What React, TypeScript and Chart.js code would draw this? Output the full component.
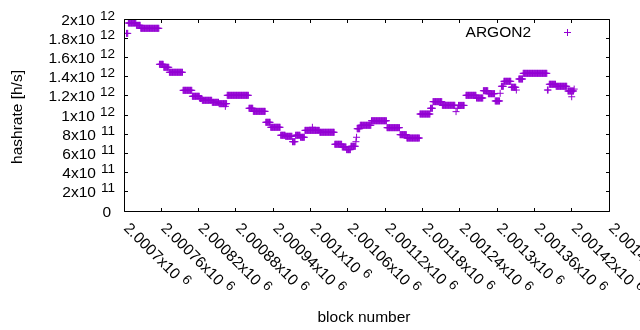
import React, { useEffect, useRef } from 'react';
import { Chart, registerables } from 'chart.js';

Chart.register(...registerables);

// Plateaus: every block from start to end shares the hashrate value.
const plateauStart = [
  2000704, 2000707, 2000720, 2000727, 2000757, 2000764, 2000773, 2000795, 2000810, 2000822,
  2000826, 2000842, 2000853, 2000863, 2000866, 2000901, 2000908, 2000928, 2000936, 2000952,
  2000960, 2000971, 2000976, 2000984, 2000991, 2001003, 2001015, 2001039, 2001051, 2001058,
  2001065, 2001073, 2001074, 2001075, 2001080, 2001098, 2001123, 2001144, 2001155, 2001176,
  2001193, 2001197, 2001212, 2001234, 2001236, 2001238, 2001250, 2001267, 2001278, 2001286,
  2001297, 2001305, 2001307, 2001311, 2001323, 2001331, 2001335, 2001342, 2001381, 2001384,
  2001395, 2001414, 2001420, 2001424,
];
const plateauEnd = [
  2000706, 2000719, 2000726, 2000756, 2000763, 2000772, 2000794, 2000809, 2000821, 2000825,
  2000841, 2000852, 2000865, 2000863, 2000900, 2000907, 2000927, 2000935, 2000951, 2000959,
  2000970, 2000975, 2000983, 2000990, 2001014, 2001003, 2001038, 2001050, 2001057, 2001064,
  2001072, 2001073, 2001074, 2001079, 2001097, 2001122, 2001143, 2001154, 2001175, 2001192,
  2001196, 2001211, 2001232, 2001234, 2001236, 2001247, 2001266, 2001277, 2001285, 2001296,
  2001304, 2001305, 2001310, 2001322, 2001330, 2001331, 2001341, 2001380, 2001382, 2001394,
  2001412, 2001423, 2001420, 2001424,
];
const plateauHashrate = [
  1.85e12, 1.958e12, 1.934e12, 1.903e12, 1.528e12, 1.497e12, 1.445e12, 1.257e12, 1.195e12, 1.172e12,
  1.153e12, 1.132e12, 1.118e12, 1.09e12, 1.205e12, 1.07e12, 1.038e12, 0.924e12, 0.872e12, 0.789e12,
  0.778e12, 0.722e12, 0.789e12, 0.768e12, 0.84e12, 0.872e12, 0.82e12, 0.695e12, 0.667e12, 0.639e12,
  0.674e12, 0.722e12, 0.768e12, 0.857e12, 0.893e12, 0.94e12, 0.868e12, 0.795e12, 0.76e12, 1.01e12,
  1.07e12, 1.139e12, 1.101e12, 1.035e12, 1.07e12, 1.1e12, 1.205e12, 1.177e12, 1.253e12, 1.222e12,
  1.146e12, 1.226e12, 1.299e12, 1.351e12, 1.289e12, 1.26e12, 1.375e12, 1.434e12, 1.26e12, 1.32e12,
  1.299e12, 1.25e12, 1.19e12, 1.27e12,
];

const xTicks = [
  2000700, 2000760, 2000820, 2000880, 2000940, 2001000, 2001060,
  2001120, 2001180, 2001240, 2001300, 2001360, 2001420, 2001480,
];
const yTicks = [0, 2e11, 4e11, 6e11, 8e11, 1e12, 1.2e12, 1.4e12, 1.6e12, 1.8e12, 2e12];

const seriesLabel = 'ARGON2';
const xTitle = 'block number';
const yTitle = 'hashrate [h/s]';
const seriesColor = '#9400d3';

const FONT = '"Liberation Sans", Arial, sans-serif';
const MAIN = 15.5;
const SUP = 13.5;

function sciParts(v: number): [string, string] {
  if (v === 0) return ['0', ''];
  const [m, e] = v.toExponential().split('e');
  return [m + 'x10', String(parseInt(e, 10))];
}

const framePlugin = {
  id: 'gnuplotFrame',
  afterDraw(chart: any) {
    const ctx: CanvasRenderingContext2D = chart.ctx;
    const { left, right, top, bottom } = chart.chartArea;
    const xs = chart.scales.x;
    const ys = chart.scales.y;
    ctx.save();
    ctx.strokeStyle = '#000';
    ctx.lineWidth = 1;
    const L = Math.round(left) + 0.5;
    const R = Math.round(right) + 0.5;
    const T = Math.round(top) + 0.5;
    const B = Math.round(bottom) + 0.5;
    ctx.beginPath();
    ctx.rect(L, T, R - L, B - T);
    ctx.stroke();
    const tl = 3.5;
    ctx.beginPath();
    yTicks.forEach((v) => {
      const p = Math.floor(ys.getPixelForValue(v)) + 0.5;
      ctx.moveTo(L, p); ctx.lineTo(L + tl, p);
      ctx.moveTo(R, p); ctx.lineTo(R - tl, p);
    });
    xTicks.forEach((v) => {
      const p = Math.floor(xs.getPixelForValue(v)) + 0.5;
      ctx.moveTo(p, B); ctx.lineTo(p, B - tl);
      ctx.moveTo(p, T); ctx.lineTo(p, T + tl);
    });
    ctx.stroke();

    ctx.fillStyle = '#000';
    ctx.textBaseline = 'alphabetic';
    // y tick labels
    yTicks.forEach((v) => {
      const p = ys.getPixelForValue(v);
      const [m, e] = sciParts(v);
      ctx.font = `${MAIN}px ${FONT}`;
      const wm = ctx.measureText(m).width;
      if (!e) {
        ctx.textAlign = 'right';
        ctx.fillText(m, left - 13, p + 5.5);
        return;
      }
      ctx.font = `${SUP}px ${FONT}`;
      const we = ctx.measureText(e).width;
      const gap = 5;
      const endX = left - 9;
      const startX = endX - we - gap - wm;
      ctx.textAlign = 'left';
      ctx.font = `${MAIN}px ${FONT}`;
      ctx.fillText(m, startX, p + 5.5);
      ctx.font = `${SUP}px ${FONT}`;
      ctx.fillText(e, startX + wm + gap, p + 0.5);
    });
    // x tick labels (rotated)
    xTicks.forEach((v) => {
      const p = xs.getPixelForValue(v);
      const [m, e] = sciParts(v);
      ctx.save();
      ctx.translate(p - 1, bottom + 18);
      ctx.rotate(Math.PI / 4);
      ctx.textAlign = 'left';
      ctx.font = `${MAIN}px ${FONT}`;
      const wm = ctx.measureText(m).width;
      ctx.fillText(m, 0, 0);
      ctx.font = `${SUP}px ${FONT}`;
      ctx.fillText(e, wm + 5, -5);
      ctx.restore();
    });
    // axis titles
    ctx.font = `${MAIN}px ${FONT}`;
    ctx.textAlign = 'center';
    ctx.fillText(xTitle, 364, 322);
    ctx.save();
    ctx.translate(22, (top + bottom) / 2 + 2);
    ctx.rotate(-Math.PI / 2);
    ctx.fillText(yTitle, 0, 0);
    ctx.restore();
    // legend
    ctx.textAlign = 'right';
    ctx.fillText(seriesLabel, 531, 37);
    ctx.strokeStyle = seriesColor;
    ctx.beginPath();
    ctx.moveTo(564, 32.5); ctx.lineTo(571, 32.5);
    ctx.moveTo(567.5, 29); ctx.lineTo(567.5, 36);
    ctx.stroke();
    ctx.restore();
  },
};

export default function App() {
  const ref = useRef<HTMLCanvasElement | null>(null);
  useEffect(() => {
    document.body.style.margin = '0';
    const points: { x: number; y: number }[] = [];
    plateauStart.forEach((s, i) => {
      for (let b = s; b <= plateauEnd[i]; b++) points.push({ x: b, y: plateauHashrate[i] });
    });
    const chart = new Chart(ref.current as HTMLCanvasElement, {
      type: 'scatter',
      data: {
        datasets: [
          {
            label: seriesLabel,
            data: points,
            pointStyle: 'cross',
            pointRadius: 3.5,
            pointBorderWidth: 1,
            borderColor: seriesColor,
            backgroundColor: seriesColor,
          },
        ],
      },
      options: {
        animation: false,
        responsive: false,
        devicePixelRatio: 1,
        layout: { padding: { left: 124, right: 31, top: 19, bottom: 119 } },
        plugins: { legend: { display: false }, tooltip: { enabled: false } },
        scales: {
          x: { type: 'linear', display: false, min: xTicks[0], max: xTicks[xTicks.length - 1] },
          y: { type: 'linear', display: false, min: yTicks[0], max: yTicks[yTicks.length - 1] },
        },
      },
      plugins: [framePlugin],
    });
    return () => chart.destroy();
  }, []);
  return (
    <div style={{ width: 640, height: 330, background: '#fff' }}>
      <canvas ref={ref} width={640} height={330} />
    </div>
  );
}
